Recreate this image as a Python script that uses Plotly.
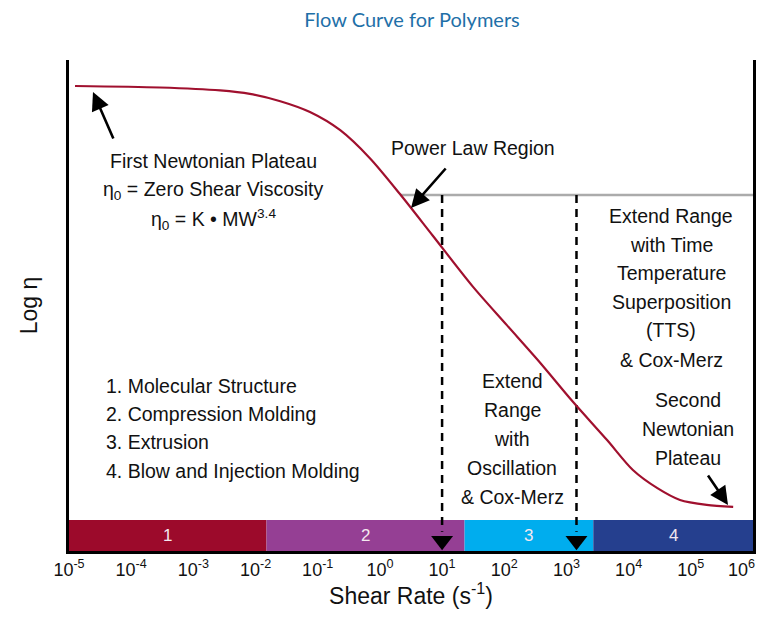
import numpy as np
import plotly.graph_objects as go

# ---------------- data ----------------
shear_rate = [1.25e-5, 2.9e-4, 2.7e-3, 8.1e-3, 0.025, 0.075, 0.23, 0.69, 2.1, 7.1,
              31, 110, 380, 1270, 4500, 1.17e4, 2.9e4, 6.7e4, 1.8e5, 4.8e5]
log_eta = [9.47, 9.44, 9.38, 9.31, 9.16, 8.94, 8.57, 8.00, 7.27, 6.42,
           5.39, 4.60, 3.83, 3.04, 2.26, 1.65, 1.28, 1.04, 0.94, 0.90]

band_edges = [1e-5, 0.015, 23, 2700, 1e6]
band_labels = ["1", "2", "3", "4"]
band_colors = ["#9c0a2b", "#953f94", "#00adee", "#253f8e"]
band_top = 0.63

gray_line_x = [2.1, 1e6]
gray_line_y = 7.25
arrow_rates = [10, 1450]
arrow_bottom = 0.39

tick_vals = [10.0 ** k for k in range(-5, 7)]
tick_text = ["10<sup>%d</sup>" % k for k in range(-5, 7)]

CURVE = "#a0102e"
FONT = "Arial"

# page body has an 8px margin; figure is sized so the whole page fits the window
OFF = 8
FIG_W, FIG_H = 766 - 2 * OFF, 617 - 2 * OFF

fig = go.Figure()

# bands
for i in range(4):
    x0, x1 = band_edges[i], band_edges[i + 1]
    fig.add_trace(go.Scatter(x=[x0, x1, x1, x0, x0], y=[0, 0, band_top, band_top, 0],
                             fill="toself", fillcolor=band_colors[i], mode="lines",
                             line=dict(width=0), hoverinfo="skip", showlegend=False))
    xc = (np.log10(x0) + np.log10(x1)) / 2
    fig.add_annotation(x=xc, y=band_top / 2, xref="x", yref="y", text=band_labels[i],
                       showarrow=False, font=dict(family=FONT, size=17, color="#f4e8f0"))

# gray reference line
fig.add_trace(go.Scatter(x=gray_line_x, y=[gray_line_y, gray_line_y], mode="lines",
                         line=dict(color="#ababab", width=2.5), hoverinfo="skip", showlegend=False))

# dashed arrows
for r in arrow_rates:
    fig.add_trace(go.Scatter(x=[r, r], y=[gray_line_y, arrow_bottom], mode="lines",
                             line=dict(color="black", width=2.5, dash="8px,6px"),
                             hoverinfo="skip", showlegend=False))
fig.add_trace(go.Scatter(x=arrow_rates, y=[arrow_bottom - 0.18] * 2, mode="markers",
                         marker=dict(symbol="triangle-down", size=19, color="black"),
                         hoverinfo="skip", showlegend=False))

# flow curve
fig.add_trace(go.Scatter(x=shear_rate, y=log_eta, mode="lines",
                         line=dict(color=CURVE, width=2.2, shape="spline", smoothing=0.8),
                         hoverinfo="skip", showlegend=False))

# ---------------- text (screen-pixel layout helpers) ----------------
L, R, T, B = 69, 753, 60, 551
W, H = R - L, B - T


def px(xp, yp):
    return (xp - L) / W, (B - yp) / H


def txt(s, xp, yp, size=19.5, anchor="center"):
    x, y = px(xp, yp)
    fig.add_annotation(x=x, y=y, xref="paper", yref="paper", text=s, showarrow=False,
                       xanchor=anchor, yanchor="middle",
                       font=dict(family=FONT, size=size, color="#111111"))


def arrow(tip, tail):
    x, y = px(*tip)
    fig.add_annotation(x=x, y=y, xref="paper", yref="paper", text="",
                       ax=tail[0] - tip[0], ay=tail[1] - tip[1], showarrow=True,
                       arrowhead=2, arrowsize=1.4, arrowwidth=2.6, arrowcolor="black",
                       standoff=0, startstandoff=0)


txt("First Newtonian Plateau", 213, 161)
txt("η<sub>0</sub> = Zero Shear Viscosity", 213, 190)
txt("η<sub>0</sub> = K • MW<sup>3.4</sup>", 213, 219)
arrow((93, 92), (114, 140))

txt("Power Law Region", 473, 148)
arrow((411, 208), (447, 167))

for s, yp in zip(["Extend Range", "with Time", "Temperature", "Superposition", "(TTS)", "& Cox-Merz"],
                 [216, 245, 273, 302, 330, 360]):
    txt(s, 671, yp)

for s, yp in zip(["Extend", "Range", "with", "Oscillation", "& Cox-Merz"],
                 [381, 410, 439, 468, 497]):
    txt(s, 512, yp)

for s, yp in zip(["Second", "Newtonian", "Plateau"], [400, 429, 458]):
    txt(s, 688, yp)
arrow((728, 505), (707, 474))

for s, yp in zip(["1. Molecular Structure", "2. Compression Molding", "3. Extrusion",
                  "4. Blow and Injection Molding"], [386, 414, 442, 471]):
    txt(s, 104, yp, anchor="left")

# last tick label would run past the page edge: draw it right-aligned instead
axis_tick_text = tick_text[:-1] + [""]
txt(tick_text[-1], 757, 568, size=18, anchor="right")

fig.update_layout(
    width=FIG_W, height=FIG_H,
    margin=dict(l=L - OFF, r=FIG_W - (R - OFF), t=T - OFF, b=FIG_H - (B - OFF), autoexpand=False),
    paper_bgcolor="white", plot_bgcolor="white",
    title=dict(text="Flow Curve for Polymers", x=(412 - OFF) / FIG_W, xanchor="center",
               y=1 - (20 - OFF) / FIG_H, yref="container", yanchor="middle",
               font=dict(family="Lato, sans-serif", size=20, color="#1f70a8")),
    xaxis=dict(type="log", range=[-5, 6], tickvals=tick_vals, ticktext=axis_tick_text,
               automargin=False, ticklabeloverflow="allow",
               showgrid=False, zeroline=False, showline=True, linecolor="black", linewidth=3,
               ticks="", tickfont=dict(family=FONT, size=18, color="#111111"),
               title=dict(text="Shear Rate (s<sup>-1</sup>)", standoff=18,
                          font=dict(family=FONT, size=23, color="#111111"))),
    yaxis=dict(range=[0, 10], showgrid=False, zeroline=False, showline=True, mirror=True,
               automargin=False,
               linecolor="black", linewidth=3, showticklabels=False, ticks="",
               title=dict(text="Log η", standoff=22,
                          font=dict(family=FONT, size=23, color="#111111"))),
)

fig.write_html("out.html")
